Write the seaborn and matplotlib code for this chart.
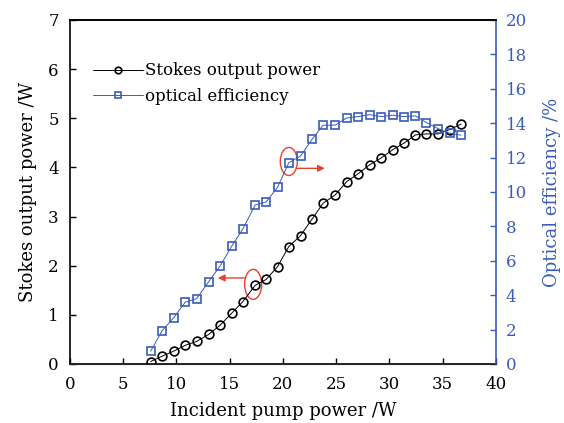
import matplotlib
matplotlib.use('Agg')
import matplotlib.pyplot as plt
from matplotlib.patches import Ellipse
import seaborn as sns
import pandas as pd

pump_power = [7.58, 8.67, 9.74, 10.83, 11.9, 13.02, 14.11, 15.18, 16.24, 17.4,
              18.43, 19.5, 20.56, 21.66, 22.75, 23.78, 24.91, 26.0, 27.07, 28.14,
              29.23, 30.33, 31.36, 32.46, 33.49, 34.58, 35.68, 36.74]
stokes_power = [0.05, 0.16, 0.26, 0.38, 0.46, 0.60, 0.79, 1.03, 1.27, 1.60,
                1.72, 1.98, 2.39, 2.61, 2.95, 3.27, 3.44, 3.71, 3.87, 4.05,
                4.19, 4.36, 4.49, 4.66, 4.68, 4.68, 4.77, 4.88]
efficiency = [0.74, 1.94, 2.69, 3.59, 3.80, 4.77, 5.70, 6.83, 7.85, 9.24,
              9.42, 10.27, 11.70, 12.09, 13.06, 13.88, 13.88, 14.30, 14.38, 14.49,
              14.38, 14.46, 14.38, 14.42, 14.03, 13.68, 13.41, 13.30]

x_ticks = list(range(0, 41, 5))
left_ticks = list(range(0, 8))
right_ticks = list(range(0, 21, 2))

BLUE = '#3b5cb8'
RED = '#e8412c'

df = pd.DataFrame({'pump': pump_power, 'stokes': stokes_power, 'eff': efficiency})

sns.set_style('ticks')
plt.rcParams['font.family'] = ['DejaVu Serif']
plt.rcParams['mathtext.fontset'] = 'dejavuserif'
plt.rcParams['text.color'] = 'black'
plt.rcParams['axes.labelcolor'] = 'black'
plt.rcParams['xtick.color'] = 'black'
plt.rcParams['ytick.color'] = 'black'

fig = plt.figure(figsize=(5.64, 4.23), dpi=100)
ax = fig.add_axes([0.124, 0.1395, 0.755, 0.8135])
ax2 = ax.twinx()

sns.lineplot(data=df, x='pump', y='stokes', ax=ax, color='black', lw=0.7,
             marker='o', markersize=6.3, markerfacecolor='none',
             markeredgecolor='black', markeredgewidth=1.2,
             label='Stokes output power', legend=False)
sns.lineplot(data=df, x='pump', y='eff', ax=ax2, color=BLUE, lw=0.7,
             marker='s', markersize=5.6, markerfacecolor='none',
             markeredgecolor=BLUE, markeredgewidth=1.2,
             label='optical efficiency', legend=False)

ax.set_xlim(0, 40)
ax.set_ylim(0, 7)
ax2.set_ylim(0, 20)
ax.set_xticks(x_ticks)
ax.set_yticks(left_ticks)
ax2.set_yticks(right_ticks)

ax.set_xlabel('Incident pump power /W', fontsize=13, labelpad=6)
ax.set_ylabel('Stokes output power /W', fontsize=13, labelpad=8)
ax2.set_ylabel('Optical efficiency /%', fontsize=13, color=BLUE, labelpad=12)

ax.tick_params(axis='x', direction='in', length=4, width=1, labelsize=12,
               pad=9, top=False, colors='black')
ax.tick_params(axis='y', direction='in', length=4, width=1, labelsize=12,
               pad=8, colors='black')
ax2.tick_params(axis='y', direction='in', length=4, width=1, labelsize=12,
                colors=BLUE, pad=7)

for sp in ['left', 'bottom', 'top']:
    ax.spines[sp].set_color('black')
    ax.spines[sp].set_linewidth(1.2)
ax2.spines['right'].set_color(BLUE)
ax2.spines['right'].set_linewidth(1.2)
ax2.spines['top'].set_visible(True)
ax2.spines['top'].set_color('black')
ax2.spines['top'].set_linewidth(1.2)
ax2.spines['left'].set_visible(False)
ax.spines['right'].set_visible(False)

# legend built from both axes
h1, l1 = ax.get_legend_handles_labels()
h2, l2 = ax2.get_legend_handles_labels()
ax.legend(h1 + h2, l1 + l2, loc='upper left', bbox_to_anchor=(0.02, 0.92),
          frameon=False, fontsize=12, handlelength=3.0, handletextpad=0.1,
          labelspacing=0.5, borderaxespad=0.5, markerscale=0.75)

# red annotations
ax.add_patch(Ellipse((17.21, 1.62), 1.6, 0.61, fill=False, edgecolor=RED, lw=1.0))
ax.annotate('', xy=(13.9, 1.75), xytext=(16.4, 1.75),
            arrowprops=dict(arrowstyle='-|>', color=RED, lw=1.0,
                            mutation_scale=10, shrinkA=0, shrinkB=0))
ax.add_patch(Ellipse((20.56, 4.12), 1.6, 0.57, fill=False, edgecolor=RED, lw=1.0))
ax.annotate('', xy=(23.94, 3.98), xytext=(21.3, 3.98),
            arrowprops=dict(arrowstyle='-|>', color=RED, lw=1.0,
                            mutation_scale=10, shrinkA=0, shrinkB=0))

fig.savefig('out.png', dpi=100)
